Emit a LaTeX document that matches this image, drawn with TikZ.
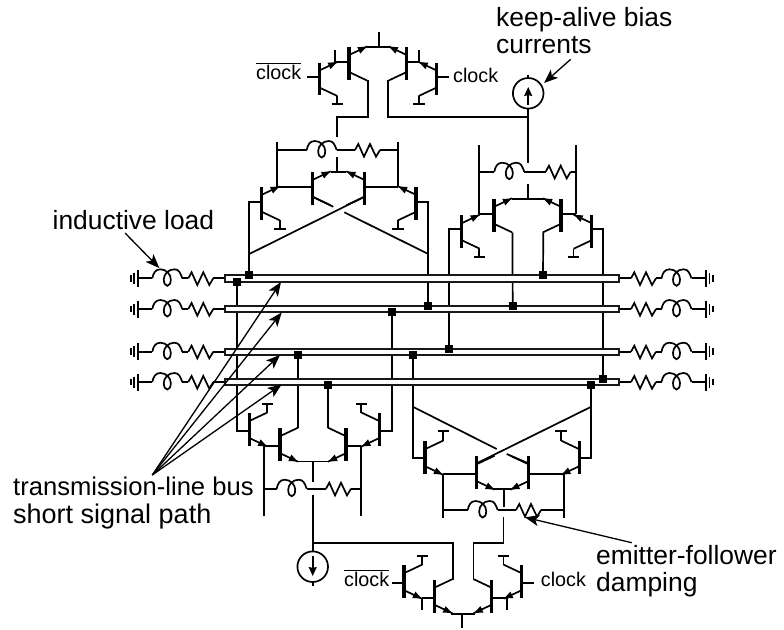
\documentclass[tikz,border=0pt]{standalone}
\usepackage{fontspec}
\setmainfont{Liberation Sans}
\usetikzlibrary{arrows.meta}
\tikzset{
  wire/.style={line width=1.7pt,line cap=butt,line join=miter},
  barline/.style={line width=3.2pt},
  pointer/.style={line width=1.3pt,-{Stealth[length=14pt,width=11pt,inset=3.5pt]},shorten >=0pt},
  busline/.style={line width=1.7pt,fill=white,draw=black!90},
  sq/.style={fill=black,inner sep=0pt,minimum size=8pt,draw=none,shape=rectangle},
  biglabel/.style={anchor=base west,inner sep=0pt,font=\fontsize{26.4pt}{30pt}\selectfont},
  smalllabel/.style={anchor=base west,inner sep=0pt,font=\fontsize{19.75pt}{22pt}\selectfont},
}
\newcommand{\Qt}[4]{%
  \begin{scope}[shift={(#1,#2)},xscale=#3,yscale=#4]
    \draw[barline] (0,-16.3)--(0,16.3);
    \draw[wire] (0,-8.5)--(18,-17);
    \draw[wire] (0,8.5)--(18,17);
    \fill (17.5,-16.8)--(11.3,-9.9)--(8.3,-16.3)--cycle;
  \end{scope}}
\newcommand{\Ind}[2]{%
  \draw[wire,shift={(#1,#2)}] (0,0) .. controls (1,-5) and (3,-9) .. (8,-9)
    .. controls (14,-9) and (18.5,-4) .. (18.5,1)
    .. controls (18.5,5) and (17,7.5) .. (15,7.5)
    .. controls (13,7.5) and (11.5,5) .. (11.5,1)
    .. controls (11.5,-4) and (16,-9) .. (22,-9)
    .. controls (27,-9) and (28,-5) .. (30,0);}
\newcommand{\Res}[2]{%
  \draw[wire,shift={(#1,#2)}] (0,0)--(3.3,-6)--(9,6.7)--(15,-6)--(21,6.7)--(25,0);}
\newcommand{\Tee}[2]{\draw[wire] (#1-5.8,#2)--(#1+5.8,#2);}
\newcommand{\GndL}[1]{%
  \draw[wire] (138.3,#1-8.5)--(138.3,#1+8.5);
  \draw[wire] (134.2,#1-5.5)--(134.2,#1+5.5);
  \draw[wire] (131,#1-3.3)--(131,#1+3.3);}
\newcommand{\GndR}[1]{%
  \draw[wire] (705.7,#1-8.5)--(705.7,#1+8.5);
  \draw[wire] (709.5,#1-5.5)--(709.5,#1+5.5);
  \draw[wire] (712.7,#1-3.3)--(712.7,#1+3.3);}
\newcommand{\LoadL}[1]{%
  \GndL{#1}\draw[wire] (138.3,#1)--(152.3,#1);\Ind{152.3}{#1}
  \draw[wire] (182.3,#1)--(188.3,#1);\Res{188.3}{#1}\draw[wire] (213.3,#1)--(225,#1);}
\newcommand{\LoadR}[1]{%
  \GndR{#1}\draw[wire] (619,#1)--(631,#1);\Res{631}{#1}
  \draw[wire] (656,#1)--(661.5,#1);\Ind{661.5}{#1}\draw[wire] (691.5,#1)--(705.7,#1);}
\begin{document}
\begin{tikzpicture}[x=1pt,y=-1pt]
\useasboundingbox (0,0) rectangle (784,629);
% junctions on the buses
\coordinate (j1) at (249.3,275.3);
\coordinate (j2) at (237,281.5);
\coordinate (j3) at (428,305.7);
\coordinate (j4) at (391.7,312);
\coordinate (j5) at (512.7,305.7);
\coordinate (j6) at (543,275.3);
\coordinate (j7) at (449,348.7);
\coordinate (j8) at (297.7,355);
\coordinate (j9) at (412.7,355);
\coordinate (j10) at (328,385);
\coordinate (j11) at (591.3,385);
\coordinate (j12) at (603.3,379);

% ---- top clock stage
\Qt{319.3}{79}{1}{1}\Qt{349}{63.5}{1}{1}\Qt{406.7}{63.5}{-1}{1}\Qt{436.7}{79}{-1}{1}
\draw[wire] (307,77)--(319.3,77);
\draw[wire] (436.7,77)--(449,77);
\draw[wire] (335,50)--(335,62)--(349,62);
\draw[wire] (419,50)--(419,62)--(406.7,62);
\draw[wire] (337.3,96)--(337.3,104.3); \Tee{337.3}{104.3}
\draw[wire] (419,96)--(419,104.3); \Tee{419}{104.3}
\draw[wire] (367,46.7)--(391,46.7);
\draw[wire] (379.3,32)--(379.3,46.7);
\coordinate (leftfeed) at (337,137);
\draw[wire] (367.7,80.3)--(367.7,116.7)--(337,116.7)--(leftfeed);
\draw[wire] (388.3,80.3)--(388.3,116.7)--(527.8,116.7);
\draw[wire] (528,109)--(528,163);
\draw[wire] (528,74.5)--(528,78);
\node[circle,draw,line width=1.7pt,minimum size=30.6pt,inner sep=0pt] (srcA) at (528.2,93.3) {};
\draw[wire,-{Stealth[length=9pt,width=8pt,inset=1pt]}] (528.2,105) -- (528.2,87);

% ---- upper left stage
\Qt{261.7}{203.3}{1}{1}\Qt{312.7}{188.3}{1}{1}\Qt{364.3}{188.3}{-1}{1}\Qt{416}{203.3}{-1}{1}
\draw[wire] (276.7,141.7)--(276.7,186.7);
\draw[wire] (397.7,141.7)--(397.7,186.7);
\draw[wire] (276.7,186.7)--(312.7,186.7);
\draw[wire] (364.3,186.7)--(397.7,186.7);
\draw[wire] (276.7,150)--(306.7,150); \Ind{306.7}{150}
\draw[wire] (336.7,150)--(355,150); \Res{355}{150} \draw[wire] (380,150)--(397.7,150);
\draw[wire] (336.7,157.3)--(336.7,172);
\draw[wire] (330.7,172)--(346.3,172);
\draw[wire] (279.7,220.3)--(279.7,229); \Tee{279.7}{229}
\draw[wire] (398,220.3)--(398,229); \Tee{398}{229}
\draw[wire] (261.7,201.7) -| (j1);
\draw[wire] (416,201.7) -| (428.3,305.7);
\draw[wire] (364.3,196.8)--(249.3,254);
\draw[wire] (312.7,196.8)--(333.3,206.8);
\draw[wire] (344.3,212.3)--(428.3,254);

% ---- upper right stage
\Qt{461.7}{231.7}{1}{1}\Qt{494}{215.3}{1}{1}\Qt{561}{215.3}{-1}{1}\Qt{591.7}{231.7}{-1}{1}
\draw[wire] (479.3,145)--(479.3,214);
\draw[wire] (576,145)--(576,214);
\draw[wire] (479.3,214)--(494,214);
\draw[wire] (561,214)--(576,214);
\draw[wire] (479.3,171.7)--(494.3,171.7); \Ind{494.3}{171.7}
\draw[wire] (524.3,171.7)--(545.7,171.7); \Res{545.7}{171.7} \draw[wire] (570.7,171.7)--(576,171.7);
\draw[wire] (527.7,184)--(527.7,199);
\draw[wire] (512,199)--(543.5,199);
\draw[wire] (479.3,248.7)--(479.3,256.7); \Tee{479.3}{256.7}
\draw[wire] (573.5,248.7)--(573.5,256.7); \Tee{573.5}{256.7}
\draw[wire] (461.7,229) -| (j7);
\draw[wire] (591.7,229) -| (j12);
\draw[wire] (512.4,232.3) -- (j5);
\draw[wire] (543.3,232.3) -- (j6);

% ---- lower left stage
\Qt{249.3}{429.5}{1}{-1}\Qt{280}{444.7}{1}{-1}\Qt{346}{444.7}{-1}{-1}\Qt{379.3}{429.5}{-1}{-1}
\draw[wire] (267.3,412.5)--(267.3,404); \Tee{267.3}{404}
\draw[wire] (361.3,412.5)--(361.3,404); \Tee{361.3}{404}
\draw[wire] (j2) |- (249.3,430.7);
\draw[wire] (j4) |- (379.3,430.7);
\draw[wire] (j8) -- (297.7,428);
\draw[wire] (j10) -- (328,428);
\draw[wire] (264.3,445.7)--(280,445.7);
\draw[wire] (346,445.7)--(361.3,445.7);
\draw[wire] (264.3,445.7)--(264.3,516);
\draw[wire] (361.3,445.7)--(361.3,516);
\draw[wire] (297,461.5)--(329,461.5);
\draw[wire] (312.7,461.5)--(312.7,482.3);
\draw[wire] (264.3,488.7)--(276.7,488.7); \Ind{276.7}{488.7}
\draw[wire] (306.7,488.7)--(326,488.7); \Res{326}{488.7} \draw[wire] (351,488.7)--(361.3,488.7);
\draw[wire] (312.7,495)--(312.7,551);
\draw[wire] (312.7,582)--(312.7,586);
\node[circle,draw,line width=1.7pt,minimum size=30.6pt,inner sep=0pt] (srcB) at (312.7,566.7) {};
\draw[wire,-{Stealth[length=9pt,width=8pt,inset=1pt]}] (312.7,556) -- (312.7,576);

% ---- lower right stage
\Qt{425}{457.7}{1}{-1}\Qt{476.7}{472.7}{1}{-1}\Qt{528.3}{472.7}{-1}{-1}\Qt{579.3}{457.7}{-1}{-1}
\draw[wire] (443.3,440.7)--(443.3,431); \Tee{443.3}{431}
\draw[wire] (561,440.7)--(561,431); \Tee{561}{431}
\draw[wire] (j9) |- (425,458.3);
\draw[wire] (j11) |- (579.3,458.3);
\draw[wire] (476.7,463.3)--(591.3,406.7);
\draw[wire] (528.3,463.3)--(506.7,454);
\draw[wire] (496.7,449)--(412.7,406.7);
\draw[wire] (443.3,474)--(476.7,474);
\draw[wire] (528.3,474)--(564,474);
\draw[wire] (443.3,474)--(443.3,518.3);
\draw[wire] (564,474)--(564,518.3);
\draw[wire] (494,488.7)--(511,488.7);
\draw[wire] (504,488.7)--(504,507);
\draw[wire] (443.3,510)--(467.7,510); \Ind{467.7}{510}
\draw[wire] (497.7,510)--(516,510); \Res{516}{510} \draw[wire] (541,510)--(564,510);

% ---- bottom clock stage
\Qt{404}{581.7}{1}{-1}\Qt{434.3}{596.2}{1}{-1}\Qt{491.7}{596.2}{-1}{-1}\Qt{521.7}{581.7}{-1}{-1}
\draw[wire] (391.7,582.7)--(404,582.7);
\draw[wire] (521.7,582.7)--(534,582.7);
\draw[wire] (422.3,564.7)--(422.3,555.7); \Tee{422.3}{555.7}
\draw[wire] (503.5,564.7)--(503.5,555.7); \Tee{503.5}{555.7}
\draw[wire] (422,598.3)--(434.3,598.3);
\draw[wire] (491.7,598.3)--(506.7,598.3);
\draw[wire] (422.3,598.3)--(422.3,610);
\draw[wire] (506.7,598.3)--(506.7,610);
\draw[wire] (451,614)--(475,614);
\draw[wire] (461.7,614)--(461.7,628);
\draw[wire] (312.7,543.3)--(452.7,543.3)--(452.7,579.5);
\draw[wire] (473.5,579.5)--(473.5,543.3)--(503.5,543.3)--(503.5,517);

% ---- loads
\LoadL{278.3}\LoadL{309}\LoadL{351.7}\LoadL{382}
\LoadR{278.3}\LoadR{309}\LoadR{351.7}\LoadR{382}

% ---- buses
\draw[busline] (225,275) rectangle (619,281.7);
\draw[busline] (225,306) rectangle (619,312.3);
\draw[busline] (225,348.7) rectangle (619,355);
\draw[busline] (225,379) rectangle (619,385.2);

% ---- junction squares
\foreach \j in {j1,j2,j3,j4,j5,j6,j7,j8,j9,j10,j11,j12} { \node[sq] at (\j) {}; }

% ---- labels
\node[biglabel] (lkeep) at (496,26.7) {keep-alive bias};
\node[biglabel] (lcur) at (496,53.5) {currents};
\node[biglabel] (lind) at (52.5,229) {inductive load};
\node[biglabel,font=\fontsize{25.6pt}{30pt}\selectfont] (ltl) at (13,495) {transmission-line bus};
\node[biglabel,font=\fontsize{27pt}{30pt}\selectfont] (lsh) at (13,523.5) {short signal path};
\node[biglabel] (lem) at (596,564) {emitter-follower};
\node[biglabel] (lda) at (596,591.7) {damping};
\node[smalllabel] (ck1) at (256,79.3) {$\overline{\hbox{clock}}$};
\node[smalllabel] (ck2) at (453,82.7) {clock};
\node[smalllabel] (ck3) at (344,586) {$\overline{\hbox{clock}}$};
\node[smalllabel] (ck4) at (540.7,586) {clock};

% ---- pointers
\coordinate (pk) at (570.7,59.3);
\coordinate (pi) at (125,233);
\coordinate (pe) at (631.7,542.7);
\coordinate (pb) at (152.3,475);
\draw[pointer] (pk) -- (544,83);
\draw[pointer] (pi) -- (159.3,268);
\draw[pointer] (pe) -- (525,517.3);
\draw[pointer] (pb) -- (281,282);
\draw[pointer] (pb) -- (281.7,312.5);
\draw[pointer] (pb) -- (280,355);
\draw[pointer] (pb) -- (281.7,384.5);
\end{tikzpicture}
\end{document}
